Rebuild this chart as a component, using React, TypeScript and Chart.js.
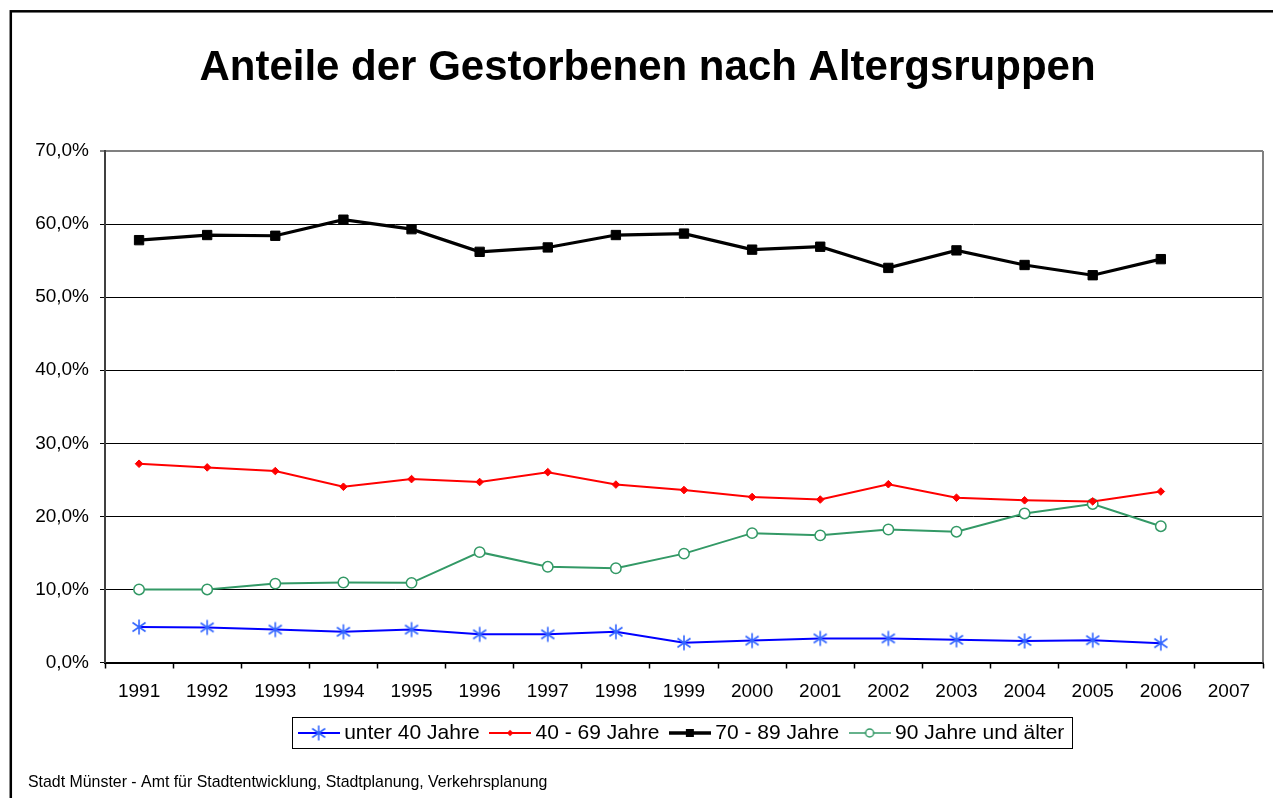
import React, { useEffect, useRef } from 'react';
import { Chart, registerables } from 'chart.js';

Chart.register(...registerables);

const TITLE = 'Anteile der Gestorbenen nach Altergsruppen';
const SOURCE = 'Stadt Münster - Amt für Stadtentwicklung, Stadtplanung, Verkehrsplanung';

const years = ['1991', '1992', '1993', '1994', '1995', '1996', '1997', '1998', '1999', '2000', '2001', '2002', '2003', '2004', '2005', '2006', '2007'];

const seriesNames = ['unter 40 Jahre', '40 - 69 Jahre', '70 - 89 Jahre', '90 Jahre und älter'];

const under40 = [4.85, 4.8, 4.5, 4.2, 4.5, 3.85, 3.85, 4.2, 2.7, 3.0, 3.3, 3.3, 3.1, 2.95, 3.05, 2.65];
const age40to69 = [27.2, 26.7, 26.2, 24.05, 25.1, 24.7, 26.05, 24.35, 23.6, 22.65, 22.3, 24.4, 22.55, 22.2, 22.05, 23.4];
const age70to89 = [57.8, 58.5, 58.4, 60.6, 59.3, 56.2, 56.8, 58.5, 58.7, 56.5, 56.9, 54.0, 56.4, 54.4, 53.0, 55.2];
const age90plus = [10.0, 10.0, 10.8, 10.95, 10.9, 15.1, 13.1, 12.9, 14.9, 17.7, 17.4, 18.2, 17.9, 20.4, 21.7, 18.65];

const yMin = 0;
const yMax = 70;
const yStep = 10;

const FONT = "'Liberation Sans', Arial, Helvetica, sans-serif";

type MarkerKind = 'asterisk' | 'diamond' | 'square' | 'circle';

function drawMarker(ctx: CanvasRenderingContext2D, kind: MarkerKind, cx: number, cy: number, color: string, scale = 1) {
  ctx.save();
  if (kind === 'asterisk') {
    const r = 7.5 * scale;
    ctx.strokeStyle = color;
    ctx.lineWidth = 1.6;
    ctx.beginPath();
    ctx.moveTo(cx, cy - r);
    ctx.lineTo(cx, cy + r);
    ctx.moveTo(cx - r * 0.87, cy - r * 0.6);
    ctx.lineTo(cx + r * 0.87, cy + r * 0.6);
    ctx.moveTo(cx - r * 0.87, cy + r * 0.6);
    ctx.lineTo(cx + r * 0.87, cy - r * 0.6);
    ctx.stroke();
  } else if (kind === 'diamond') {
    const r = 4 * scale;
    ctx.fillStyle = color;
    ctx.beginPath();
    ctx.moveTo(cx, cy - r);
    ctx.lineTo(cx + r, cy);
    ctx.lineTo(cx, cy + r);
    ctx.lineTo(cx - r, cy);
    ctx.closePath();
    ctx.fill();
  } else if (kind === 'square') {
    const s = 10 * scale;
    ctx.fillStyle = color;
    ctx.fillRect(cx - s / 2, cy - s / 2, s, s);
  } else {
    const r = 5 * scale;
    ctx.strokeStyle = color;
    ctx.fillStyle = '#ffffff';
    ctx.lineWidth = 1.5;
    ctx.beginPath();
    ctx.arc(cx, cy, r, 0, Math.PI * 2);
    ctx.fill();
    ctx.stroke();
  }
  ctx.restore();
}

function makeLegendImage(lineColor: string, lineWidth: number, kind: MarkerKind, markerColor: string, markerScale: number) {
  const c = document.createElement('canvas');
  c.width = 42;
  c.height = 20;
  const ctx = c.getContext('2d')!;
  ctx.strokeStyle = lineColor;
  ctx.lineWidth = lineWidth;
  ctx.beginPath();
  ctx.moveTo(0, 10);
  ctx.lineTo(42, 10);
  ctx.stroke();
  drawMarker(ctx, kind, 21, 10, markerColor, markerScale);
  return c;
}

function makePointImage(kind: MarkerKind, color: string) {
  const c = document.createElement('canvas');
  c.width = 18;
  c.height = 18;
  const ctx = c.getContext('2d')!;
  drawMarker(ctx, kind, 9, 9, color, 1);
  return c;
}

export default function App() {
  const canvasRef = useRef<HTMLCanvasElement | null>(null);

  useEffect(() => {
    if (!canvasRef.current) return;

    const asterisk = makePointImage('asterisk', '#3366FF');
    const legendImages = [
      makeLegendImage('#0000FF', 2, 'asterisk', '#3366FF', 1),
      makeLegendImage('#FF0000', 2, 'diamond', '#FF0000', 0.8),
      makeLegendImage('#000000', 3.5, 'square', '#000000', 0.8),
      makeLegendImage('#339966', 1.5, 'circle', '#339966', 0.8),
    ];

    const decor = {
      id: 'decor',
      beforeDraw(chart: any) {
        const ctx = chart.ctx;
        ctx.save();
        ctx.fillStyle = '#ffffff';
        ctx.fillRect(0, 0, chart.width, chart.height);
        ctx.restore();
      },
      afterDraw(chart: any) {
        const { ctx, chartArea } = chart;
        ctx.save();
        // outer frame (extends beyond the visible page at right and bottom)
        ctx.strokeStyle = '#000000';
        ctx.lineWidth = 2.5;
        ctx.strokeRect(10.8, 11.3, 1400, 1000);
        // right border of plot area
        ctx.strokeStyle = '#808080';
        ctx.lineWidth = 2;
        ctx.beginPath();
        ctx.moveTo(chartArea.right, chartArea.top);
        ctx.lineTo(chartArea.right, chartArea.bottom);
        ctx.stroke();
        // legend frame
        const hb = chart.legend && chart.legend.legendHitBoxes;
        if (hb && hb.length) {
          const first = hb[0];
          const last = hb[hb.length - 1];
          const left = Math.round(first.left - 6 - 6) + 0.5;
          const right = Math.round(last.left + last.width + 8) + 0.5;
          const cy = first.top + 10.5;
          const top = Math.round(cy - 16.5) + 0.5;
          const bottom = top + 31;
          ctx.strokeStyle = '#000000';
          ctx.lineWidth = 1;
          ctx.strokeRect(left, top, right - left, bottom - top);
        }
        // source
        ctx.fillStyle = '#000000';
        ctx.font = `15.9px ${FONT}`;
        ctx.textBaseline = 'alphabetic';
        ctx.textAlign = 'left';
        ctx.fillText(SOURCE, 28, 787);
        ctx.restore();
      },
    };

    const chart = new Chart(canvasRef.current, {
      type: 'line',
      data: {
        labels: years,
        datasets: [
          {
            label: seriesNames[0],
            data: under40,
            borderColor: '#0000FF',
            backgroundColor: '#3366FF',
            borderWidth: 2,
            pointStyle: asterisk as any,
            pointRadius: 8,
          },
          {
            label: seriesNames[1],
            data: age40to69,
            borderColor: '#FF0000',
            backgroundColor: '#FF0000',
            borderWidth: 2,
            pointStyle: 'rectRot',
            pointRadius: 3.8,
            pointBorderWidth: 1,
            pointBorderColor: '#FF0000',
            pointBackgroundColor: '#FF0000',
          },
          {
            label: seriesNames[2],
            data: age70to89,
            borderColor: '#000000',
            backgroundColor: '#000000',
            borderWidth: 3.2,
            pointStyle: 'rect',
            pointRadius: 6.6,
            pointBorderWidth: 1,
            pointBorderColor: '#000000',
            pointBackgroundColor: '#000000',
          },
          {
            label: seriesNames[3],
            data: age90plus,
            borderColor: '#339966',
            backgroundColor: '#ffffff',
            borderWidth: 2,
            pointStyle: 'circle',
            pointRadius: 5.2,
            pointBorderWidth: 1.5,
            pointBorderColor: '#339966',
            pointBackgroundColor: '#ffffff',
          },
        ],
      },
      options: {
        responsive: false,
        maintainAspectRatio: false,
        animation: false,
        devicePixelRatio: 1,
        events: [],
        layout: {
          padding: { left: 31, right: 9, top: 0, bottom: 44.5 },
        },
        font: { family: FONT },
        plugins: {
          title: {
            display: true,
            text: TITLE,
            color: '#000000',
            font: { family: FONT, size: 42, weight: 'bold' },
            padding: { top: 43, bottom: 57.6 },
          },
          legend: {
            display: true,
            position: 'bottom',
            fullSize: false,
            align: 'center',
            labels: {
              usePointStyle: true,
              pointStyleWidth: 30,
              padding: 15.5,
              color: '#000000',
              font: { family: FONT, size: 21 },
              generateLabels: () =>
                seriesNames.map((name, i) => ({
                  text: name,
                  pointStyle: legendImages[i] as any,
                  fillStyle: 'transparent',
                  strokeStyle: 'transparent',
                  lineWidth: 0,
                  fontColor: '#000000',
                  hidden: false,
                  datasetIndex: i,
                })),
            },
          },
          tooltip: { enabled: false },
        },
        scales: {
          x: {
            type: 'category',
            offset: true,
            grid: {
              offset: true,
              drawOnChartArea: false,
              drawTicks: true,
              tickLength: 6,
              tickColor: '#000000',
              tickWidth: 1.5,
            },
            border: { color: '#000000', width: 2 },
            ticks: {
              color: '#000000',
              font: { family: FONT, size: 19 },
              padding: 12,
              maxRotation: 0,
              autoSkip: false,
            },
            afterFit: (scale: any) => {
              scale.height = 44.5;
            },
          },
          y: {
            min: yMin,
            max: yMax,
            grid: {
              color: (c: any) => (c.tick && c.tick.value === yMax ? '#808080' : '#000000'),
              lineWidth: (c: any) => (c.tick && c.tick.value === yMax ? 2 : 1),
              drawTicks: true,
              tickLength: 5,
              tickColor: '#000000',
              tickWidth: 1,
            },
            border: { color: '#404040', width: 2 },
            ticks: {
              stepSize: yStep,
              color: '#000000',
              font: { family: FONT, size: 19 },
              padding: 11,
              callback: (v: any) => Number(v).toFixed(1).replace('.', ',') + '%',
            },
            afterFit: (scale: any) => {
              scale.width = 74;
            },
          },
        },
      },
      plugins: [decor],
    });

    return () => {
      chart.destroy();
    };
  }, []);

  return (
    <div style={{ position: 'absolute', left: 0, top: 0, width: 1273, height: 798, overflow: 'hidden', background: '#ffffff' }}>
      <canvas ref={canvasRef} width={1273} height={798} style={{ display: 'block', width: 1273, height: 798 }} />
    </div>
  );
}
